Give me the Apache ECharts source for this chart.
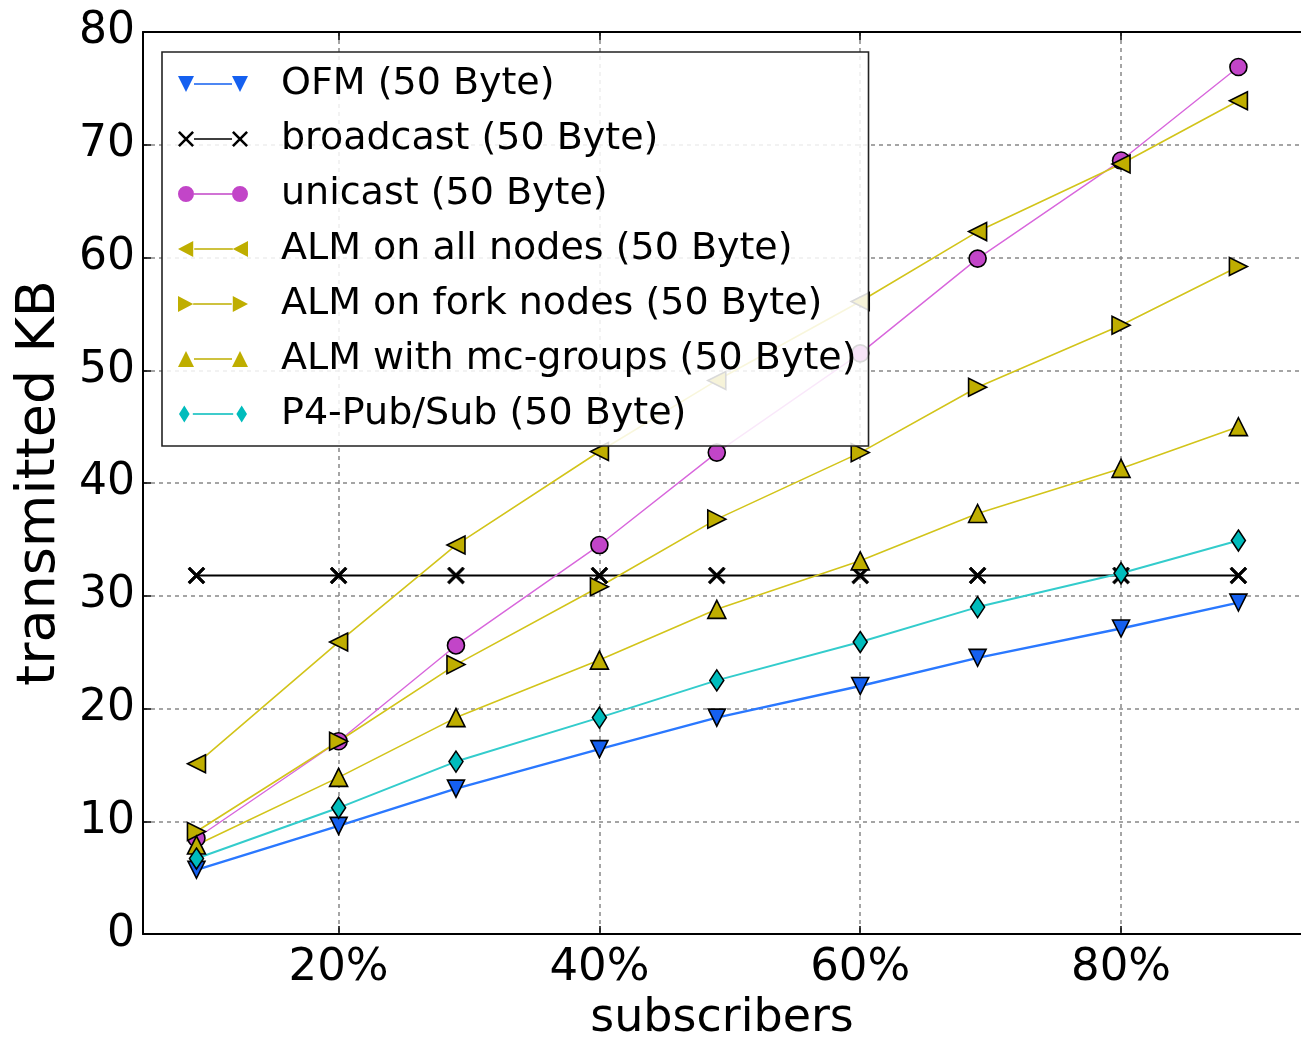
<!DOCTYPE html>
<html>
<head>
<meta charset="utf-8">
<script src="https://cdn.jsdelivr.net/npm/echarts@6/dist/echarts.min.js"></script>
<style>
  html, body { margin: 0; padding: 0; background: #fff; }
  #main { width: 1301px; height: 1047px; }
</style>
</head>
<body>
<div id="main"></div>
<script>
'use strict';

// subscribers (% of hosts)
var subscribers = [9.1, 20, 29, 40, 49, 60, 69, 80, 89];

// transmitted KB per approach
var ofm        = [5.7, 9.6, 12.9, 16.4, 19.2, 22.0, 24.5, 27.1, 29.4];
var broadcast  = [31.8, 31.8, 31.8, 31.8, 31.8, 31.8, 31.8, 31.8, 31.8];
var unicast    = [8.5, 17.1, 25.6, 34.5, 42.7, 51.5, 59.9, 68.6, 76.9];
var almAll     = [15.1, 25.9, 34.5, 42.8, 49.1, 56.1, 62.3, 68.3, 73.9];
var almFork    = [9.1, 17.1, 23.9, 30.8, 36.8, 42.7, 48.5, 54.0, 59.2];
var almGroups  = [7.9, 13.9, 19.2, 24.3, 28.8, 33.1, 37.3, 41.3, 45.0];
var p4PubSub   = [6.7, 11.2, 15.3, 19.2, 22.5, 25.9, 29.0, 32.0, 34.9];

var xTicks = [20, 40, 60, 80];

var FONT = 'DejaVu Sans';

// marker shapes, 16x16 box shifted by ox
function shape(kind, ox) {
    var s = function(x) { return (x + ox); };
    switch (kind) {
        case 'down':
            return 'M' + s(0) + ',0L' + s(16) + ',0L' + s(8) + ',16Z';
        case 'up':
            return 'M' + s(0) + ',16L' + s(16) + ',16L' + s(8) + ',0Z';
        case 'left':
            return 'M' + s(15) + ',0L' + s(15) + ',16L' + s(0) + ',8Z';
        case 'right':
            return 'M' + s(1) + ',0L' + s(1) + ',16L' + s(16) + ',8Z';
        case 'circle':
            return 'M' + s(0) + ',8A8,8 0 1,0 ' + s(16) + ',8A8,8 0 1,0 ' + s(0) + ',8Z';
        case 'diamond':
            return 'M' + s(8) + ',0L' + s(13) + ',8L' + s(8) + ',16L' + s(3) + ',8Z';
        case 'cross':
            return 'M' + s(0) + ',1.8L' + s(1.8) + ',0L' + s(16) + ',14.2L' + s(14.2) + ',16Z' +
                   'M' + s(14.2) + ',0L' + s(16) + ',1.8L' + s(1.8) + ',16L' + s(0) + ',14.2Z';
    }
}

function legendIcon(kind) {
    return 'path://' + shape(kind, 0) + 'M16,7.2L54,7.2L54,8.8L16,8.8Z' + shape(kind, 54);
}

function pairs(vals) {
    return vals.map(function(v, i) { return [subscribers[i], v]; });
}

function makeSeries(name, vals, kind, fill, line, size, width) {
    return {
        name: name,
        type: 'line',
        data: pairs(vals),
        symbol: 'path://' + shape(kind, 0),
        symbolSize: size,
        showAllSymbol: true,
        lineStyle: { color: line, width: width },
        itemStyle: { color: fill, borderColor: '#000', borderWidth: kind === 'cross' ? 0.8 : 1.6 },
        emphasis: { disabled: true },
        animation: false
    };
}

var seriesDefs = [
    makeSeries('OFM (50 Byte)', ofm, 'down', '#1560f0', '#2a78ff', 17, 2.4),
    makeSeries('broadcast (50 Byte)', broadcast, 'cross', '#000', '#000', 17, 2),
    makeSeries('unicast (50 Byte)', unicast, 'circle', '#c245c8', '#d866dc', 17, 1.4),
    makeSeries('ALM on all nodes (50 Byte)', almAll, 'left', '#bfae00', '#d2c41a', 18, 1.6),
    makeSeries('ALM on fork nodes (50 Byte)', almFork, 'right', '#bfae00', '#d2c41a', 18, 1.6),
    makeSeries('ALM with mc-groups (50 Byte)', almGroups, 'up', '#bfae00', '#d2c41a', 18, 1.6),
    makeSeries('P4-Pub/Sub (50 Byte)', p4PubSub, 'diamond', '#00bcbc', '#33cccc', [14, 21], 2)
];

var iconKinds = ['down', 'cross', 'circle', 'left', 'right', 'up', 'diamond'];

var myChart = echarts.init(document.getElementById('main'));
var option = {
    backgroundColor: '#fff',
    grid: { left: 143, right: 0, top: 32, bottom: 107, containLabel: false },
    legend: {
        orient: 'vertical',
        left: 162,
        top: 52,
        padding: [9, 12, 9, 16],
        itemGap: 9,
        itemWidth: 70,
        itemHeight: 17,
        backgroundColor: 'rgba(255,255,255,0.85)',
        borderColor: '#222',
        borderWidth: 1.6,
        borderRadius: 0,
        selectedMode: false,
        itemStyle: { borderWidth: 0 },
        textStyle: {
            fontFamily: FONT,
            fontSize: 38,
            color: '#000',
            lineHeight: 46,
            padding: [0, 0, 0, 28]
        },
        data: seriesDefs.map(function(s, i) {
            return { name: s.name, icon: legendIcon(iconKinds[i]) };
        }),
        z: 10
    },
    xAxis: [{
        type: 'value',
        min: 5,
        max: 93.8,
        position: 'bottom',
        name: 'subscribers',
        nameLocation: 'middle',
        nameGap: 58,
        nameTextStyle: { fontFamily: FONT, fontSize: 46, color: '#000' },
        axisLine: { show: true, onZero: false, lineStyle: { color: '#000', width: 2 } },
        axisTick: { show: true, inside: true, length: 8, customValues: xTicks, lineStyle: { color: '#000', width: 1.5 } },
        axisLabel: {
            customValues: xTicks,
            formatter: '{value}%',
            fontFamily: FONT,
            fontSize: 45,
            color: '#000',
            margin: 12
        },
        splitLine: { show: true, lineStyle: { color: '#888', width: 1.5, type: [4, 4] } }
    }, {
        type: 'value',
        min: 5,
        max: 93.8,
        position: 'top',
        axisLine: { show: true, onZero: false, lineStyle: { color: '#000', width: 2 } },
        axisTick: { show: true, inside: true, length: 8, customValues: xTicks, lineStyle: { color: '#000', width: 1.5 } },
        axisLabel: { show: false },
        splitLine: { show: false }
    }],
    yAxis: [{
        type: 'value',
        min: 0,
        max: 80,
        interval: 10,
        name: 'transmitted KB',
        nameLocation: 'middle',
        nameGap: 76,
        nameTextStyle: { fontFamily: FONT, fontSize: 54, color: '#000' },
        axisLine: { show: true, onZero: false, lineStyle: { color: '#000', width: 2 } },
        axisTick: { show: true, inside: true, length: 8, lineStyle: { color: '#000', width: 1.5 } },
        axisLabel: { fontFamily: FONT, fontSize: 44, color: '#000', margin: 8 },
        splitLine: { show: true, lineStyle: { color: '#888', width: 1.5, type: [4, 4] } }
    }],
    series: seriesDefs
};
myChart.setOption(option);
</script>
</body>
</html>
